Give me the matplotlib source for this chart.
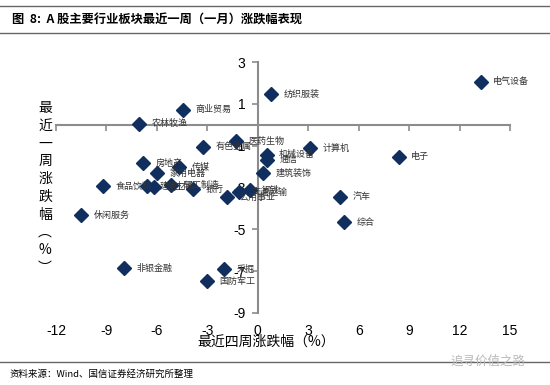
import matplotlib
matplotlib.use("Agg")
import matplotlib.pyplot as plt
from matplotlib.lines import Line2D

plt.rcParams['font.family'] = ['Noto Sans CJK SC', 'DejaVu Sans']

# industry names, 4-week change (x) and 1-week change (y), in %
names = ['电气设备', '纺织服装', '商业贸易', '农林牧渔', '有色金属', '医药生物', '计算机',
         '电子', '机械设备', '通信', '建筑装饰', '房地产', '家用电器', '传媒',
         '食品饮料', '建筑材料', '化工', '轻工制造', '银行', '公用事业', '交通运输',
         '钢铁', '汽车', '综合', '休闲服务', '非银金融', '采掘', '国防军工']
month_chg = [13.25, 0.77, -4.46, -7.07, -3.27, -1.31, 3.09,
             8.38, 0.53, 0.53, 0.30, -6.83, -6.00, -4.69,
             -9.21, -6.60, -6.18, -5.17, -3.86, -1.84, -1.13,
             -0.48, 4.87, 5.11, -10.52, -7.96, -2.02, -3.03]
week_chg = [2.05, 1.47, 0.71, 0.04, -1.05, -0.78, -1.11,
            -1.54, -1.43, -1.67, -2.31, -1.83, -2.31, -2.02,
            -2.93, -2.93, -2.98, -2.88, -3.07, -3.45, -3.22,
            -3.12, -3.45, -4.65, -4.32, -6.85, -6.90, -7.47]

xticks = [-12, -9, -6, -3, 0, 3, 6, 9, 12, 15]
yticks = [-9, -7, -5, -3, -1, 1, 3]

navy = '#112F5E'
grey = '#8C8C8C'

fig = plt.figure(figsize=(5.5, 3.85), dpi=100)
ax = fig.add_axes([56 / 550, 1 - 313 / 385, 454 / 550, 251 / 385])

ax.plot(month_chg, week_chg, linestyle='none', marker='D', markersize=7,
        color=navy, zorder=4, clip_on=False)
for n, x, y in zip(names, month_chg, week_chg):
    ax.annotate(n, (x, y), xytext=(9, 0), textcoords='offset points',
                fontsize=6.5, color='#333333', va='center', ha='left', zorder=5)

ax.set_xlim(-12, 15)
ax.set_ylim(-9, 3)
for s in ['top', 'right']:
    ax.spines[s].set_visible(False)
ax.spines['left'].set_position(('data', 0))
ax.spines['bottom'].set_position(('data', 0))
for s in ['left', 'bottom']:
    ax.spines[s].set_color(grey)
    ax.spines[s].set_linewidth(1.5)

ax.set_xticks(xticks)
ax.set_xticklabels([])
ax.set_yticks(yticks)
ax.set_yticklabels([str(v) for v in yticks], family='Liberation Sans', fontsize=10)
ax.tick_params(axis='both', direction='out', length=4, width=1.2, color=grey)
ax.tick_params(axis='y', pad=5)

# x tick labels sit at the bottom of the plot, not on the axis line
for v in xticks:
    ax.text(v, -0.045, str(v), transform=ax.get_xaxis_transform(),
            ha='center', va='top', fontsize=10, family='Liberation Sans')

fig.text(266 / 550, 1 - 342 / 385, '最近四周涨跌幅（%）', ha='center', va='center',
         fontsize=10)
fig.text(45 / 550, 1 - 188 / 385, '\n'.join('最近一周涨跌幅︵%︶'), ha='center',
         va='center', fontsize=10, linespacing=1.35)

# header and footer
fig.add_artist(Line2D([0, 1], [1 - 6 / 385] * 2, color='#666666', lw=1))
fig.add_artist(Line2D([0, 1], [1 - 33 / 385] * 2, color='#666666', lw=1))
fig.add_artist(Line2D([0, 1], [1 - 362 / 385] * 2, color='#666666', lw=1))
fig.text(12 / 550, 1 - 20 / 385, '图  8:  A 股主要行业板块最近一周（一月）涨跌幅表现',
         fontsize=8.8, weight='bold', va='center', ha='left')
fig.text(10 / 550, 1 - 374 / 385, '资料来源：Wind、国信证券经济研究所整理',
         fontsize=6.8, va='center', ha='left')
fig.text(525 / 550, 1 - 361 / 385, '追寻价值之路', fontsize=9, color='#BBBBBB',
         va='center', ha='right')

fig.savefig('out.png', dpi=100)
